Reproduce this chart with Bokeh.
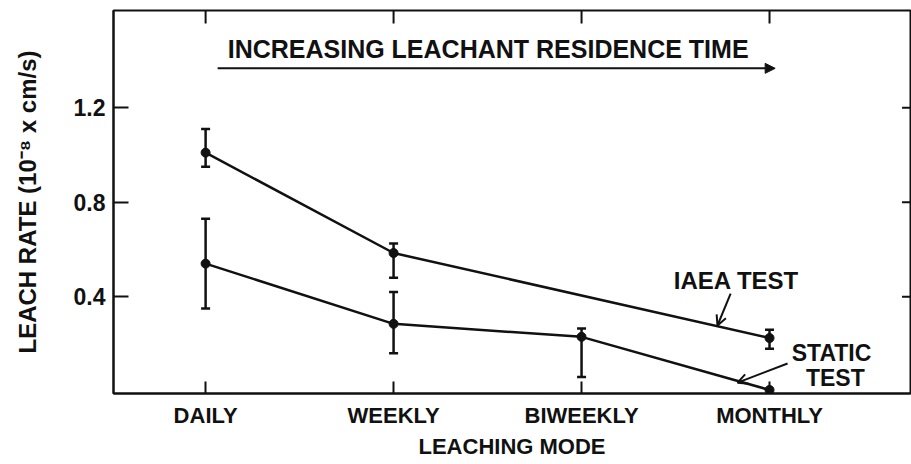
from bokeh.plotting import figure
from bokeh.models import (Range1d, FixedTicker, Whisker, TeeHead,
                          ColumnDataSource, Arrow, NormalHead, OpenHead, Label)
from bokeh.embed import file_html
from bokeh.resources import INLINE

# ---- data ----
categories = ["DAILY", "WEEKLY", "BIWEEKLY", "MONTHLY"]
iaea_idx = [0, 1, 3]
iaea_rate = [1.01, 0.585, 0.225]
iaea_upper = [1.11, 0.625, 0.26]
iaea_lower = [0.95, 0.48, 0.18]

static_idx = [0, 1, 2, 3]
static_rate = [0.54, 0.285, 0.23, 0.005]
static_err_idx = [0, 1, 2]
static_upper = [0.73, 0.42, 0.265]
static_lower = [0.35, 0.16, 0.06]

y_ticks = [0.4, 0.8, 1.2]
y_tick_labels = ["0.4", "0.8", "1.2"]

X0, X1 = -0.49, 3.75
Y0, Y1 = -0.01, 1.612

FONT = "Liberation Sans"
INK = "#111111"

p = figure(width=911, height=464, output_backend="svg", toolbar_location=None,
           x_range=Range1d(X0, X1), y_range=Range1d(Y0, Y1),
           min_border_left=113, min_border_right=1, min_border_top=10,
           min_border_bottom=71)
p.background_fill_color = "white"
p.border_fill_color = "white"
p.grid.visible = False
p.outline_line_color = INK
p.outline_line_width = 2

# bottom axis
xa = p.xaxis[0]
xa.ticker = FixedTicker(ticks=list(range(len(categories))))
xa.major_label_overrides = {i: c for i, c in enumerate(categories)}
xa.major_tick_in = 12
xa.major_tick_out = 0
xa.minor_tick_line_color = None
xa.major_tick_line_width = 2
xa.axis_line_width = 2
xa.axis_line_color = INK
xa.major_tick_line_color = INK
xa.major_label_text_font = FONT
xa.major_label_text_font_style = "bold"
xa.major_label_text_font_size = "22px"
xa.major_label_text_color = INK
xa.major_label_standoff = 9
xa.axis_label = "LEACHING MODE"
xa.axis_label_text_font = FONT
xa.axis_label_text_font_style = "bold"
xa.axis_label_text_font_size = "22px"
xa.axis_label_text_color = INK
xa.axis_label_standoff = 3

# left axis
ya = p.yaxis[0]
ya.ticker = FixedTicker(ticks=y_ticks)
ya.major_label_overrides = {t: l for t, l in zip(y_ticks, y_tick_labels)}
ya.major_tick_in = 15
ya.major_tick_out = 0
ya.minor_tick_line_color = None
ya.major_tick_line_width = 2
ya.axis_line_width = 2
ya.axis_line_color = INK
ya.major_tick_line_color = INK
ya.major_label_text_font = FONT
ya.major_label_text_font_style = "bold"
ya.major_label_text_font_size = "23px"
ya.major_label_text_color = INK
ya.major_label_standoff = 8
ya.axis_label = "LEACH RATE (10\u207b\u2078 x cm/s)"
ya.axis_label_text_font = FONT
ya.axis_label_text_font_style = "bold"
ya.axis_label_text_font_size = "24px"
ya.axis_label_text_color = INK
ya.axis_label_standoff = 30

# inward ticks on top and right edges of the frame
p.segment(x0=list(range(len(categories))), y0=[Y1] * len(categories),
          x1=list(range(len(categories))), y1=[Y1 - 0.055] * len(categories),
          line_color=INK, line_width=2)
p.segment(x0=[X1] * len(y_ticks), y0=y_ticks,
          x1=[X1 - 0.045] * len(y_ticks), y1=y_ticks,
          line_color=INK, line_width=2)

# series lines
p.line(iaea_idx, iaea_rate, line_color=INK, line_width=2.5)
p.scatter(iaea_idx, iaea_rate, size=9, fill_color=INK, line_color=INK)
p.line(static_idx, static_rate, line_color=INK, line_width=2.5)
p.scatter(static_idx, static_rate, size=9, fill_color=INK, line_color=INK)

# error bars
src_i = ColumnDataSource(dict(x=iaea_idx, up=iaea_upper, lo=iaea_lower))
src_s = ColumnDataSource(dict(x=static_err_idx, up=static_upper, lo=static_lower))
for src in (src_i, src_s):
    w = Whisker(source=src, base="x", upper="up", lower="lo",
                line_color=INK, line_width=2.5,
                upper_head=TeeHead(size=9, line_color=INK, line_width=2.5),
                lower_head=TeeHead(size=9, line_color=INK, line_width=2.5))
    p.add_layout(w)

# annotations
p.add_layout(Label(x=1.503, y=1.45, text="INCREASING LEACHANT RESIDENCE TIME",
                   text_align="center", text_baseline="middle",
                   text_font=FONT, text_font_style="bold",
                   text_font_size="25px", text_color=INK))
p.add_layout(Arrow(x_start=0.064, y_start=1.367, x_end=3.03, y_end=1.367,
                   line_color=INK, line_width=2,
                   end=NormalHead(size=10, fill_color=INK, line_color=INK)))

p.add_layout(Label(x=2.824, y=0.468, text="IAEA TEST", text_align="center",
                   text_baseline="middle", text_font=FONT, text_font_style="bold",
                   text_font_size="24px", text_color=INK))
p.add_layout(Arrow(x_start=2.793, y_start=0.413, x_end=2.723, y_end=0.278,
                   line_color=INK, line_width=2,
                   end=OpenHead(size=10, line_color=INK, line_width=2)))

p.add_layout(Label(x=3.33, y=0.163, text="STATIC", text_align="center",
                   text_baseline="middle", text_font=FONT, text_font_style="bold",
                   text_font_size="23px", text_color=INK))
p.add_layout(Label(x=3.35, y=0.057, text="TEST", text_align="center",
                   text_baseline="middle", text_font=FONT, text_font_style="bold",
                   text_font_size="23px", text_color=INK))
p.add_layout(Arrow(x_start=3.096, y_start=0.117, x_end=2.83, y_end=0.036,
                   line_color=INK, line_width=2,
                   end=OpenHead(size=10, line_color=INK, line_width=2)))

open("out.html", "w").write(file_html(p, INLINE))
